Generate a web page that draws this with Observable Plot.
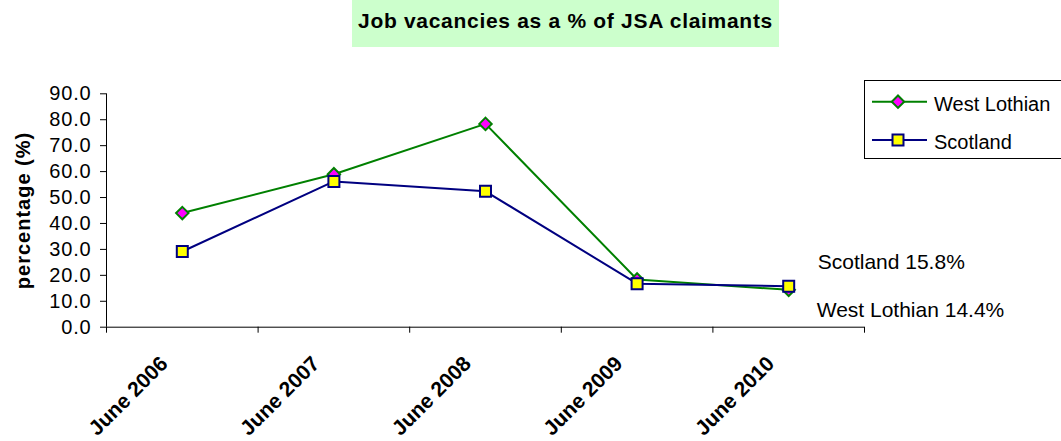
<!DOCTYPE html>
<html><head><meta charset="utf-8">
<script src="https://cdn.jsdelivr.net/npm/d3@7"></script>
<script src="https://cdn.jsdelivr.net/npm/@observablehq/plot@0.6"></script>
<style>
body{margin:0;background:#fff;font-family:Arial,"Liberation Sans",sans-serif;}
#wrap{position:relative;width:1061px;height:441px;overflow:hidden;}
#titlebar{position:relative;height:47px;}
#title{position:absolute;left:352px;top:0;width:427px;height:47px;box-sizing:border-box;padding-top:10px;background:#CCFFCC;text-align:center;font-weight:bold;font-size:21px;line-height:21px;letter-spacing:0.7px;color:#000;white-space:nowrap;}
#legend{position:absolute;left:864px;top:80px;}
svg g[aria-label="y-axis label"] text{font-weight:bold;letter-spacing:1px;}
svg g[aria-label="y-axis tick label"] text{letter-spacing:0.8px;}
</style></head>
<body>
<div id="wrap">
  <div id="titlebar"><div id="title">Job vacancies as a % of JSA claimants</div></div>
  <div id="chart"></div>
  <svg id="legend" width="197" height="80"></svg>
</div>
<script>
// ---- data ----
const categories = ["June 2006", "June 2007", "June 2008", "June 2009", "June 2010"];
const seriesNames = ["West Lothian", "Scotland"];
const westLothian = [44.0, 59.0, 78.4, 18.4, 14.4];
const scotland = [29.2, 56.2, 52.4, 16.8, 15.8];
const yTicks = [0, 10, 20, 30, 40, 50, 60, 70, 80, 90];

// ---- styling ----
const colors = {
  wlLine: "#008000", wlFill: "#FF00FF",
  scLine: "#000080", scFill: "#FFFF00"
};

const wl = categories.map((c, i) => ({i, cat: c, v: westLothian[i]}));
const sc = categories.map((c, i) => ({i, cat: c, v: scotland[i]}));
const last = categories.length - 1;
const boundaries = d3.range(categories.length + 1).map(k => k - 0.5);
const centers = d3.range(categories.length);

const chart = Plot.plot({
  width: 1061,
  height: 394,
  marginLeft: 106,
  marginRight: 197,
  marginTop: 46.3,
  marginBottom: 114.3,
  x: {type: "linear", domain: [-0.5, categories.length - 0.5]},
  y: {domain: [0, 90]},
  style: {fontFamily: "Arial, 'Liberation Sans', sans-serif", fontSize: "20px", color: "#000", background: "transparent", overflow: "visible"},
  marks: [
    Plot.axisY({ticks: yTicks, tickFormat: d => d.toFixed(1), tickSize: 6, tickPadding: 9,
      label: "percentage (%)", labelAnchor: "center", labelOffset: 91, labelArrow: "none"}),
    Plot.axisX({ticks: boundaries, tickFormat: () => "", tickSize: 6, label: null}),
    Plot.axisX({ticks: centers, tickFormat: k => categories[k], tickSize: 0, tickRotate: -45,
      tickPadding: 33, dx: -18, fontWeight: "bold", fontSize: 21, label: null}),
    Plot.ruleY([0], {stroke: "#000"}),
    Plot.ruleX([-0.5], {stroke: "#000"}),
    Plot.line(wl, {x: "i", y: "v", stroke: colors.wlLine, strokeWidth: 2}),
    Plot.dot(wl, {x: "i", y: "v", symbol: "diamond2", r: 5.6, fill: colors.wlFill, stroke: colors.wlLine, strokeWidth: 2}),
    Plot.line(sc, {x: "i", y: "v", stroke: colors.scLine, strokeWidth: 2}),
    Plot.dot(sc, {x: "i", y: "v", symbol: "square", r: 6.2, fill: colors.scFill, stroke: colors.scLine, strokeWidth: 2}),
    Plot.text([sc[last]], {x: "i", y: "v", text: d => `${seriesNames[1]} ${d.v.toFixed(1)}%`,
      textAnchor: "start", dx: 29, dy: -24, fontSize: 21, fill: "#000"}),
    Plot.text([wl[last]], {x: "i", y: "v", text: d => `${seriesNames[0]} ${d.v.toFixed(1)}%`,
      textAnchor: "start", dx: 28, dy: 20, fontSize: 21, fill: "#000"})
  ]
});
document.getElementById("chart").appendChild(chart);

// ---- legend ----
const lg = d3.select("#legend");
lg.append("rect").attr("x", 0.5).attr("y", 0.5).attr("width", 210).attr("height", 78)
  .attr("fill", "#fff").attr("stroke", "#000");
const entries = [
  {name: seriesNames[0], line: colors.wlLine, fill: colors.wlFill, sym: d3.symbolDiamond2, size: Math.PI * 5.6 * 5.6},
  {name: seriesNames[1], line: colors.scLine, fill: colors.scFill, sym: d3.symbolSquare, size: Math.PI * 6.2 * 6.2}
];
entries.forEach((e, k) => {
  const cy = k === 0 ? 21.7 : 60;
  lg.append("line").attr("x1", 8).attr("x2", 63).attr("y1", cy).attr("y2", cy)
    .attr("stroke", e.line).attr("stroke-width", 2);
  lg.append("path").attr("d", d3.symbol(e.sym, e.size)()).attr("transform", `translate(34,${cy})`)
    .attr("fill", e.fill).attr("stroke", e.line).attr("stroke-width", 2);
  lg.append("text").attr("x", 70).attr("y", cy + 5).attr("dy", "0.22em")
    .attr("font-size", 20).attr("font-family", "Arial, 'Liberation Sans', sans-serif")
    .attr("fill", "#000").text(e.name);
});
</script>
</body></html>
